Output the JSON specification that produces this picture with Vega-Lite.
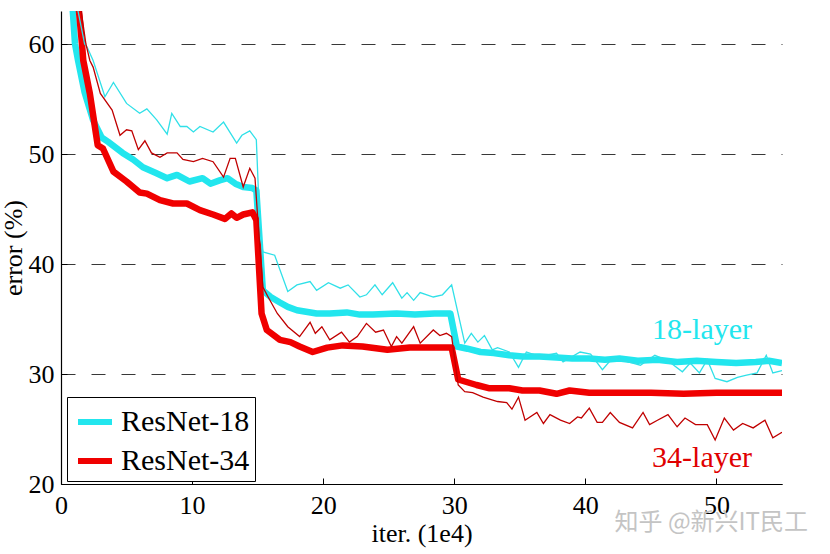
{
  "$schema": "https://vega.github.io/schema/vega-lite/v6.json",
  "width": 721,
  "height": 473,
  "autosize": "none",
  "padding": {"left": 61, "top": 11, "right": 48, "bottom": 70},
  "background": "white",
  "title": {
    "text": "知乎 @新兴IT民工",
    "orient": "bottom",
    "anchor": "end",
    "frame": "group",
    "font": "Noto Sans CJK SC",
    "fontSize": 24,
    "fontWeight": "normal",
    "color": "#c4c4c4",
    "offset": -35,
    "dx": 26
  },
  "config": {
    "view": {"stroke": null},
    "font": "Liberation Serif",
    "axis": {
      "labelFont": "Liberation Serif",
      "labelFontSize": 26,
      "labelColor": "black",
      "titleFont": "Liberation Serif",
      "titleFontSize": 26,
      "titleFontWeight": "normal",
      "titleColor": "black",
      "domainColor": "black",
      "domainWidth": 1.2,
      "tickColor": "black",
      "tickSize": -6,
      "labelFlush": false,
      "labelOverlap": false
    },
    "legend": {
      "orient": "none",
      "legendX": 6,
      "legendY": 386,
      "strokeColor": "black",
      "fillColor": "white",
      "padding": 5,
      "labelFont": "Liberation Serif",
      "labelFontSize": 30,
      "labelColor": "black",
      "symbolType": "stroke",
      "symbolStrokeWidth": 6,
      "symbolSize": 1156,
      "symbolOffset": 3,
      "rowPadding": 4,
      "labelOffset": 6
    }
  },
  "datasets": {
    "curves": [
      {"net": "ResNet-18", "set": "test", "iter": 0.5, "err": 68},
      {"net": "ResNet-18", "set": "test", "iter": 0.9, "err": 63},
      {"net": "ResNet-18", "set": "test", "iter": 1.07, "err": 60},
      {"net": "ResNet-18", "set": "test", "iter": 1.3, "err": 58.5},
      {"net": "ResNet-18", "set": "test", "iter": 1.8, "err": 55.6},
      {"net": "ResNet-18", "set": "test", "iter": 2.44, "err": 53.1},
      {"net": "ResNet-18", "set": "test", "iter": 3.1, "err": 51.5},
      {"net": "ResNet-18", "set": "test", "iter": 3.6, "err": 51.1},
      {"net": "ResNet-18", "set": "test", "iter": 4.7, "err": 50.1},
      {"net": "ResNet-18", "set": "test", "iter": 5.5, "err": 49.5},
      {"net": "ResNet-18", "set": "test", "iter": 6.25, "err": 48.8},
      {"net": "ResNet-18", "set": "test", "iter": 7.2, "err": 48.3},
      {"net": "ResNet-18", "set": "test", "iter": 8.1, "err": 47.8},
      {"net": "ResNet-18", "set": "test", "iter": 8.85, "err": 48.1},
      {"net": "ResNet-18", "set": "test", "iter": 9.8, "err": 47.5},
      {"net": "ResNet-18", "set": "test", "iter": 10.8, "err": 47.8},
      {"net": "ResNet-18", "set": "test", "iter": 11.4, "err": 47.3},
      {"net": "ResNet-18", "set": "test", "iter": 12.1, "err": 47.6},
      {"net": "ResNet-18", "set": "test", "iter": 12.7, "err": 47.8},
      {"net": "ResNet-18", "set": "test", "iter": 13.3, "err": 47.3},
      {"net": "ResNet-18", "set": "test", "iter": 13.9, "err": 47.0},
      {"net": "ResNet-18", "set": "test", "iter": 14.6, "err": 46.9},
      {"net": "ResNet-18", "set": "test", "iter": 14.9, "err": 46.7},
      {"net": "ResNet-18", "set": "test", "iter": 15.4, "err": 37.6},
      {"net": "ResNet-18", "set": "test", "iter": 16.0, "err": 37.0},
      {"net": "ResNet-18", "set": "test", "iter": 16.7, "err": 36.5},
      {"net": "ResNet-18", "set": "test", "iter": 17.3, "err": 36.1},
      {"net": "ResNet-18", "set": "test", "iter": 18.0, "err": 35.8},
      {"net": "ResNet-18", "set": "test", "iter": 19.5, "err": 35.5},
      {"net": "ResNet-18", "set": "test", "iter": 20.5, "err": 35.5},
      {"net": "ResNet-18", "set": "test", "iter": 21.8, "err": 35.6},
      {"net": "ResNet-18", "set": "test", "iter": 22.8, "err": 35.4},
      {"net": "ResNet-18", "set": "test", "iter": 23.8, "err": 35.4},
      {"net": "ResNet-18", "set": "test", "iter": 25.6, "err": 35.5},
      {"net": "ResNet-18", "set": "test", "iter": 27.0, "err": 35.4},
      {"net": "ResNet-18", "set": "test", "iter": 28.5, "err": 35.5},
      {"net": "ResNet-18", "set": "test", "iter": 29.7, "err": 35.5},
      {"net": "ResNet-18", "set": "test", "iter": 30.2, "err": 32.5},
      {"net": "ResNet-18", "set": "test", "iter": 31.0, "err": 32.3},
      {"net": "ResNet-18", "set": "test", "iter": 32.0, "err": 32.0},
      {"net": "ResNet-18", "set": "test", "iter": 33.0, "err": 31.9},
      {"net": "ResNet-18", "set": "test", "iter": 34.2, "err": 31.7},
      {"net": "ResNet-18", "set": "test", "iter": 35.2, "err": 31.6},
      {"net": "ResNet-18", "set": "test", "iter": 36.5, "err": 31.6},
      {"net": "ResNet-18", "set": "test", "iter": 37.8, "err": 31.5},
      {"net": "ResNet-18", "set": "test", "iter": 39.0, "err": 31.4},
      {"net": "ResNet-18", "set": "test", "iter": 40.3, "err": 31.4},
      {"net": "ResNet-18", "set": "test", "iter": 41.5, "err": 31.3},
      {"net": "ResNet-18", "set": "test", "iter": 42.6, "err": 31.4},
      {"net": "ResNet-18", "set": "test", "iter": 44.0, "err": 31.2},
      {"net": "ResNet-18", "set": "test", "iter": 45.5, "err": 31.3},
      {"net": "ResNet-18", "set": "test", "iter": 47.0, "err": 31.1},
      {"net": "ResNet-18", "set": "test", "iter": 48.5, "err": 31.2},
      {"net": "ResNet-18", "set": "test", "iter": 50.0, "err": 31.1},
      {"net": "ResNet-18", "set": "test", "iter": 51.5, "err": 31.0},
      {"net": "ResNet-18", "set": "test", "iter": 53.0, "err": 31.1},
      {"net": "ResNet-18", "set": "test", "iter": 54.0, "err": 31.2},
      {"net": "ResNet-18", "set": "test", "iter": 55.0, "err": 31.0},

      {"net": "ResNet-34", "set": "test", "iter": 1.1, "err": 68},
      {"net": "ResNet-34", "set": "test", "iter": 1.37, "err": 63},
      {"net": "ResNet-34", "set": "test", "iter": 1.6, "err": 60},
      {"net": "ResNet-34", "set": "test", "iter": 1.7, "err": 58.5},
      {"net": "ResNet-34", "set": "test", "iter": 2.2, "err": 55.5},
      {"net": "ResNet-34", "set": "test", "iter": 2.8, "err": 50.8},
      {"net": "ResNet-34", "set": "test", "iter": 3.2, "err": 50.5},
      {"net": "ResNet-34", "set": "test", "iter": 4.0, "err": 48.4},
      {"net": "ResNet-34", "set": "test", "iter": 5.0, "err": 47.5},
      {"net": "ResNet-34", "set": "test", "iter": 6.0, "err": 46.5},
      {"net": "ResNet-34", "set": "test", "iter": 6.55, "err": 46.4},
      {"net": "ResNet-34", "set": "test", "iter": 7.55, "err": 45.8},
      {"net": "ResNet-34", "set": "test", "iter": 8.55, "err": 45.5},
      {"net": "ResNet-34", "set": "test", "iter": 9.6, "err": 45.5},
      {"net": "ResNet-34", "set": "test", "iter": 10.6, "err": 44.9},
      {"net": "ResNet-34", "set": "test", "iter": 11.6, "err": 44.5},
      {"net": "ResNet-34", "set": "test", "iter": 12.5, "err": 44.1},
      {"net": "ResNet-34", "set": "test", "iter": 13.0, "err": 44.6},
      {"net": "ResNet-34", "set": "test", "iter": 13.4, "err": 44.2},
      {"net": "ResNet-34", "set": "test", "iter": 13.9, "err": 44.5},
      {"net": "ResNet-34", "set": "test", "iter": 14.6, "err": 44.7},
      {"net": "ResNet-34", "set": "test", "iter": 14.9, "err": 44.0},
      {"net": "ResNet-34", "set": "test", "iter": 15.3, "err": 35.5},
      {"net": "ResNet-34", "set": "test", "iter": 15.7, "err": 34.0},
      {"net": "ResNet-34", "set": "test", "iter": 16.7, "err": 33.1},
      {"net": "ResNet-34", "set": "test", "iter": 17.5, "err": 32.9},
      {"net": "ResNet-34", "set": "test", "iter": 18.2, "err": 32.5},
      {"net": "ResNet-34", "set": "test", "iter": 19.2, "err": 32.0},
      {"net": "ResNet-34", "set": "test", "iter": 20.3, "err": 32.4},
      {"net": "ResNet-34", "set": "test", "iter": 21.5, "err": 32.6},
      {"net": "ResNet-34", "set": "test", "iter": 23.0, "err": 32.5},
      {"net": "ResNet-34", "set": "test", "iter": 24.9, "err": 32.2},
      {"net": "ResNet-34", "set": "test", "iter": 26.6, "err": 32.4},
      {"net": "ResNet-34", "set": "test", "iter": 28.1, "err": 32.4},
      {"net": "ResNet-34", "set": "test", "iter": 29.8, "err": 32.4},
      {"net": "ResNet-34", "set": "test", "iter": 30.3, "err": 29.5},
      {"net": "ResNet-34", "set": "test", "iter": 31.7, "err": 29.0},
      {"net": "ResNet-34", "set": "test", "iter": 32.7, "err": 28.7},
      {"net": "ResNet-34", "set": "test", "iter": 34.2, "err": 28.7},
      {"net": "ResNet-34", "set": "test", "iter": 35.2, "err": 28.5},
      {"net": "ResNet-34", "set": "test", "iter": 36.5, "err": 28.5},
      {"net": "ResNet-34", "set": "test", "iter": 37.8, "err": 28.2},
      {"net": "ResNet-34", "set": "test", "iter": 38.8, "err": 28.5},
      {"net": "ResNet-34", "set": "test", "iter": 40.3, "err": 28.3},
      {"net": "ResNet-34", "set": "test", "iter": 42.6, "err": 28.3},
      {"net": "ResNet-34", "set": "test", "iter": 45.0, "err": 28.3},
      {"net": "ResNet-34", "set": "test", "iter": 47.5, "err": 28.2},
      {"net": "ResNet-34", "set": "test", "iter": 50.0, "err": 28.3},
      {"net": "ResNet-34", "set": "test", "iter": 52.5, "err": 28.3},
      {"net": "ResNet-34", "set": "test", "iter": 55.0, "err": 28.3},

      {"net": "ResNet-18", "set": "train", "iter": 0.8, "err": 66},
      {"net": "ResNet-18", "set": "train", "iter": 1.8, "err": 60},
      {"net": "ResNet-18", "set": "train", "iter": 2.0, "err": 59.7},
      {"net": "ResNet-18", "set": "train", "iter": 2.45, "err": 58.5},
      {"net": "ResNet-18", "set": "train", "iter": 3.35, "err": 55.2},
      {"net": "ResNet-18", "set": "train", "iter": 4.0, "err": 56.5},
      {"net": "ResNet-18", "set": "train", "iter": 5.0, "err": 54.6},
      {"net": "ResNet-18", "set": "train", "iter": 6.0, "err": 53.7},
      {"net": "ResNet-18", "set": "train", "iter": 6.55, "err": 54.1},
      {"net": "ResNet-18", "set": "train", "iter": 7.3, "err": 53.1},
      {"net": "ResNet-18", "set": "train", "iter": 8.1, "err": 51.8},
      {"net": "ResNet-18", "set": "train", "iter": 8.45, "err": 53.7},
      {"net": "ResNet-18", "set": "train", "iter": 9.1, "err": 52.5},
      {"net": "ResNet-18", "set": "train", "iter": 9.6, "err": 52.5},
      {"net": "ResNet-18", "set": "train", "iter": 10.1, "err": 52.0},
      {"net": "ResNet-18", "set": "train", "iter": 10.6, "err": 52.5},
      {"net": "ResNet-18", "set": "train", "iter": 11.6, "err": 52.0},
      {"net": "ResNet-18", "set": "train", "iter": 12.4, "err": 52.9},
      {"net": "ResNet-18", "set": "train", "iter": 13.4, "err": 51.0},
      {"net": "ResNet-18", "set": "train", "iter": 13.8, "err": 51.7},
      {"net": "ResNet-18", "set": "train", "iter": 14.4, "err": 52.1},
      {"net": "ResNet-18", "set": "train", "iter": 14.9, "err": 51.3},
      {"net": "ResNet-18", "set": "train", "iter": 15.2, "err": 42.5},
      {"net": "ResNet-18", "set": "train", "iter": 15.4, "err": 41.1},
      {"net": "ResNet-18", "set": "train", "iter": 16.3, "err": 40.8},
      {"net": "ResNet-18", "set": "train", "iter": 17.3, "err": 37.5},
      {"net": "ResNet-18", "set": "train", "iter": 18.0, "err": 38.1},
      {"net": "ResNet-18", "set": "train", "iter": 19.0, "err": 38.4},
      {"net": "ResNet-18", "set": "train", "iter": 19.5, "err": 37.6},
      {"net": "ResNet-18", "set": "train", "iter": 20.4, "err": 38.3},
      {"net": "ResNet-18", "set": "train", "iter": 21.3, "err": 37.8},
      {"net": "ResNet-18", "set": "train", "iter": 21.9, "err": 38.1},
      {"net": "ResNet-18", "set": "train", "iter": 22.8, "err": 37.0},
      {"net": "ResNet-18", "set": "train", "iter": 23.3, "err": 37.2},
      {"net": "ResNet-18", "set": "train", "iter": 23.95, "err": 38.1},
      {"net": "ResNet-18", "set": "train", "iter": 24.5, "err": 37.2},
      {"net": "ResNet-18", "set": "train", "iter": 25.3, "err": 38.3},
      {"net": "ResNet-18", "set": "train", "iter": 26.0, "err": 36.9},
      {"net": "ResNet-18", "set": "train", "iter": 26.4, "err": 37.4},
      {"net": "ResNet-18", "set": "train", "iter": 26.9, "err": 36.7},
      {"net": "ResNet-18", "set": "train", "iter": 27.4, "err": 37.4},
      {"net": "ResNet-18", "set": "train", "iter": 28.4, "err": 37.0},
      {"net": "ResNet-18", "set": "train", "iter": 29.1, "err": 37.2},
      {"net": "ResNet-18", "set": "train", "iter": 29.8, "err": 38.1},
      {"net": "ResNet-18", "set": "train", "iter": 30.8, "err": 32.8},
      {"net": "ResNet-18", "set": "train", "iter": 31.3, "err": 33.7},
      {"net": "ResNet-18", "set": "train", "iter": 31.8, "err": 32.9},
      {"net": "ResNet-18", "set": "train", "iter": 32.3, "err": 33.5},
      {"net": "ResNet-18", "set": "train", "iter": 32.9, "err": 32.2},
      {"net": "ResNet-18", "set": "train", "iter": 33.3, "err": 32.4},
      {"net": "ResNet-18", "set": "train", "iter": 34.2, "err": 32.0},
      {"net": "ResNet-18", "set": "train", "iter": 34.9, "err": 30.6},
      {"net": "ResNet-18", "set": "train", "iter": 35.5, "err": 32.0},
      {"net": "ResNet-18", "set": "train", "iter": 36.5, "err": 31.6},
      {"net": "ResNet-18", "set": "train", "iter": 37.8, "err": 31.9},
      {"net": "ResNet-18", "set": "train", "iter": 38.3, "err": 31.1},
      {"net": "ResNet-18", "set": "train", "iter": 39.6, "err": 32.0},
      {"net": "ResNet-18", "set": "train", "iter": 40.4, "err": 31.8},
      {"net": "ResNet-18", "set": "train", "iter": 41.3, "err": 30.4},
      {"net": "ResNet-18", "set": "train", "iter": 42.1, "err": 31.5},
      {"net": "ResNet-18", "set": "train", "iter": 43.0, "err": 31.2},
      {"net": "ResNet-18", "set": "train", "iter": 44.2, "err": 30.8},
      {"net": "ResNet-18", "set": "train", "iter": 45.3, "err": 31.7},
      {"net": "ResNet-18", "set": "train", "iter": 46.3, "err": 31.2},
      {"net": "ResNet-18", "set": "train", "iter": 47.4, "err": 30.2},
      {"net": "ResNet-18", "set": "train", "iter": 48.0, "err": 31.0},
      {"net": "ResNet-18", "set": "train", "iter": 48.7, "err": 30.1},
      {"net": "ResNet-18", "set": "train", "iter": 49.3, "err": 31.3},
      {"net": "ResNet-18", "set": "train", "iter": 49.9, "err": 29.6},
      {"net": "ResNet-18", "set": "train", "iter": 50.8, "err": 29.3},
      {"net": "ResNet-18", "set": "train", "iter": 51.6, "err": 29.7},
      {"net": "ResNet-18", "set": "train", "iter": 52.3, "err": 29.9},
      {"net": "ResNet-18", "set": "train", "iter": 53.1, "err": 30.1},
      {"net": "ResNet-18", "set": "train", "iter": 53.8, "err": 31.7},
      {"net": "ResNet-18", "set": "train", "iter": 54.3, "err": 30.1},
      {"net": "ResNet-18", "set": "train", "iter": 55.0, "err": 30.3},

      {"net": "ResNet-34", "set": "train", "iter": 1.3, "err": 65},
      {"net": "ResNet-34", "set": "train", "iter": 1.9, "err": 60},
      {"net": "ResNet-34", "set": "train", "iter": 2.2, "err": 58.5},
      {"net": "ResNet-34", "set": "train", "iter": 2.45, "err": 57.9},
      {"net": "ResNet-34", "set": "train", "iter": 3.0, "err": 55.5},
      {"net": "ResNet-34", "set": "train", "iter": 3.9, "err": 54.0},
      {"net": "ResNet-34", "set": "train", "iter": 4.5, "err": 51.7},
      {"net": "ResNet-34", "set": "train", "iter": 5.0, "err": 52.2},
      {"net": "ResNet-34", "set": "train", "iter": 5.4, "err": 52.1},
      {"net": "ResNet-34", "set": "train", "iter": 5.9, "err": 50.4},
      {"net": "ResNet-34", "set": "train", "iter": 6.4, "err": 51.2},
      {"net": "ResNet-34", "set": "train", "iter": 6.9, "err": 50.1},
      {"net": "ResNet-34", "set": "train", "iter": 7.55, "err": 49.7},
      {"net": "ResNet-34", "set": "train", "iter": 8.1, "err": 50.1},
      {"net": "ResNet-34", "set": "train", "iter": 8.85, "err": 50.1},
      {"net": "ResNet-34", "set": "train", "iter": 9.3, "err": 49.5},
      {"net": "ResNet-34", "set": "train", "iter": 10.1, "err": 49.3},
      {"net": "ResNet-34", "set": "train", "iter": 10.8, "err": 49.6},
      {"net": "ResNet-34", "set": "train", "iter": 11.6, "err": 49.3},
      {"net": "ResNet-34", "set": "train", "iter": 12.4, "err": 47.9},
      {"net": "ResNet-34", "set": "train", "iter": 12.9, "err": 49.6},
      {"net": "ResNet-34", "set": "train", "iter": 13.3, "err": 49.6},
      {"net": "ResNet-34", "set": "train", "iter": 13.9, "err": 47.0},
      {"net": "ResNet-34", "set": "train", "iter": 14.4, "err": 48.7},
      {"net": "ResNet-34", "set": "train", "iter": 14.8, "err": 47.8},
      {"net": "ResNet-34", "set": "train", "iter": 15.0, "err": 44.3},
      {"net": "ResNet-34", "set": "train", "iter": 15.4, "err": 37.9},
      {"net": "ResNet-34", "set": "train", "iter": 15.8, "err": 37.0},
      {"net": "ResNet-34", "set": "train", "iter": 16.5, "err": 35.5},
      {"net": "ResNet-34", "set": "train", "iter": 17.3, "err": 34.3},
      {"net": "ResNet-34", "set": "train", "iter": 18.2, "err": 33.4},
      {"net": "ResNet-34", "set": "train", "iter": 19.0, "err": 34.7},
      {"net": "ResNet-34", "set": "train", "iter": 19.4, "err": 33.7},
      {"net": "ResNet-34", "set": "train", "iter": 19.9, "err": 34.3},
      {"net": "ResNet-34", "set": "train", "iter": 20.5, "err": 33.1},
      {"net": "ResNet-34", "set": "train", "iter": 21.4, "err": 33.8},
      {"net": "ResNet-34", "set": "train", "iter": 22.0, "err": 32.9},
      {"net": "ResNet-34", "set": "train", "iter": 22.6, "err": 33.4},
      {"net": "ResNet-34", "set": "train", "iter": 23.3, "err": 34.6},
      {"net": "ResNet-34", "set": "train", "iter": 24.0, "err": 33.8},
      {"net": "ResNet-34", "set": "train", "iter": 24.6, "err": 34.0},
      {"net": "ResNet-34", "set": "train", "iter": 25.2, "err": 32.5},
      {"net": "ResNet-34", "set": "train", "iter": 25.6, "err": 33.4},
      {"net": "ResNet-34", "set": "train", "iter": 26.0, "err": 32.8},
      {"net": "ResNet-34", "set": "train", "iter": 26.9, "err": 34.3},
      {"net": "ResNet-34", "set": "train", "iter": 27.4, "err": 32.8},
      {"net": "ResNet-34", "set": "train", "iter": 28.4, "err": 34.0},
      {"net": "ResNet-34", "set": "train", "iter": 28.9, "err": 33.5},
      {"net": "ResNet-34", "set": "train", "iter": 29.4, "err": 33.7},
      {"net": "ResNet-34", "set": "train", "iter": 29.8, "err": 33.4},
      {"net": "ResNet-34", "set": "train", "iter": 30.3, "err": 29.0},
      {"net": "ResNet-34", "set": "train", "iter": 30.8, "err": 28.4},
      {"net": "ResNet-34", "set": "train", "iter": 31.4, "err": 28.3},
      {"net": "ResNet-34", "set": "train", "iter": 32.2, "err": 27.9},
      {"net": "ResNet-34", "set": "train", "iter": 33.3, "err": 27.5},
      {"net": "ResNet-34", "set": "train", "iter": 34.0, "err": 27.4},
      {"net": "ResNet-34", "set": "train", "iter": 34.4, "err": 26.8},
      {"net": "ResNet-34", "set": "train", "iter": 34.9, "err": 27.9},
      {"net": "ResNet-34", "set": "train", "iter": 35.4, "err": 25.8},
      {"net": "ResNet-34", "set": "train", "iter": 36.3, "err": 26.5},
      {"net": "ResNet-34", "set": "train", "iter": 36.8, "err": 25.5},
      {"net": "ResNet-34", "set": "train", "iter": 37.3, "err": 26.3},
      {"net": "ResNet-34", "set": "train", "iter": 38.1, "err": 25.8},
      {"net": "ResNet-34", "set": "train", "iter": 38.8, "err": 25.5},
      {"net": "ResNet-34", "set": "train", "iter": 39.4, "err": 26.1},
      {"net": "ResNet-34", "set": "train", "iter": 39.7, "err": 26.0},
      {"net": "ResNet-34", "set": "train", "iter": 40.3, "err": 26.9},
      {"net": "ResNet-34", "set": "train", "iter": 40.9, "err": 25.6},
      {"net": "ResNet-34", "set": "train", "iter": 41.3, "err": 25.6},
      {"net": "ResNet-34", "set": "train", "iter": 41.9, "err": 26.5},
      {"net": "ResNet-34", "set": "train", "iter": 42.6, "err": 25.6},
      {"net": "ResNet-34", "set": "train", "iter": 43.6, "err": 25.1},
      {"net": "ResNet-34", "set": "train", "iter": 44.4, "err": 26.5},
      {"net": "ResNet-34", "set": "train", "iter": 44.9, "err": 25.4},
      {"net": "ResNet-34", "set": "train", "iter": 45.5, "err": 25.8},
      {"net": "ResNet-34", "set": "train", "iter": 46.3, "err": 26.3},
      {"net": "ResNet-34", "set": "train", "iter": 47.0, "err": 25.2},
      {"net": "ResNet-34", "set": "train", "iter": 47.6, "err": 26.0},
      {"net": "ResNet-34", "set": "train", "iter": 48.4, "err": 25.4},
      {"net": "ResNet-34", "set": "train", "iter": 49.3, "err": 25.4},
      {"net": "ResNet-34", "set": "train", "iter": 49.9, "err": 24.0},
      {"net": "ResNet-34", "set": "train", "iter": 50.6, "err": 26.0},
      {"net": "ResNet-34", "set": "train", "iter": 51.3, "err": 24.9},
      {"net": "ResNet-34", "set": "train", "iter": 52.0, "err": 25.5},
      {"net": "ResNet-34", "set": "train", "iter": 52.8, "err": 25.1},
      {"net": "ResNet-34", "set": "train", "iter": 53.7, "err": 25.8},
      {"net": "ResNet-34", "set": "train", "iter": 54.3, "err": 24.2},
      {"net": "ResNet-34", "set": "train", "iter": 55.0, "err": 24.7}
    ],
    "labels": [
      {"net": "ResNet-18", "iter": 48.9, "err": 33.2, "text": "18-layer"},
      {"net": "ResNet-34", "iter": 48.9, "err": 21.55, "text": "34-layer"}
    ]
  },
  "layer": [
    {
      "data": {"name": "curves"},
      "transform": [{"filter": "datum.set === 'test'"}],
      "mark": {"type": "line", "strokeWidth": 6.5, "clip": true, "strokeJoin": "round", "strokeCap": "butt"},
      "encoding": {
        "x": {
          "field": "iter",
          "type": "quantitative",
          "scale": {"domain": [0, 55], "nice": false, "zero": false},
          "axis": {
            "title": "iter. (1e4)",
            "values": [0, 10, 20, 30, 40, 50],
            "grid": false,
            "labelPadding": 14,
            "titlePadding": 2
          }
        },
        "y": {
          "field": "err",
          "type": "quantitative",
          "scale": {"domain": [20, 63], "nice": false, "zero": false},
          "axis": {
            "title": "error (%)",
            "values": [20, 30, 40, 50, 60],
            "grid": true,
            "gridDash": [14, 16],
            "gridColor": "#383838",
            "gridWidth": 1,
            "labelPadding": 13,
            "titlePadding": 2
          }
        },
        "color": {
          "field": "net",
          "type": "nominal",
          "scale": {"domain": ["ResNet-18", "ResNet-34"], "range": ["#22e6ee", "#f00000"]},
          "legend": {"title": null}
        }
      }
    },
    {
      "data": {"name": "curves"},
      "transform": [{"filter": "datum.set === 'train'"}],
      "mark": {"type": "line", "strokeWidth": 1.3, "clip": true},
      "encoding": {
        "x": {"field": "iter", "type": "quantitative"},
        "y": {"field": "err", "type": "quantitative"},
        "color": {
          "field": "net",
          "type": "nominal",
          "scale": {"domain": ["ResNet-18", "ResNet-34"], "range": ["#30e0e8", "#c00000"]},
          "legend": null
        }
      }
    },
    {
      "data": {"name": "labels"},
      "mark": {"type": "text", "font": "Liberation Serif", "fontSize": 30, "align": "center", "baseline": "alphabetic"},
      "encoding": {
        "x": {"field": "iter", "type": "quantitative"},
        "y": {"field": "err", "type": "quantitative"},
        "text": {"field": "text"},
        "color": {
          "field": "net",
          "type": "nominal",
          "scale": {"domain": ["ResNet-18", "ResNet-34"], "range": ["#22e6ee", "#e00000"]},
          "legend": null
        }
      }
    }
  ],
  "resolve": {"scale": {"color": "independent"}}
}
